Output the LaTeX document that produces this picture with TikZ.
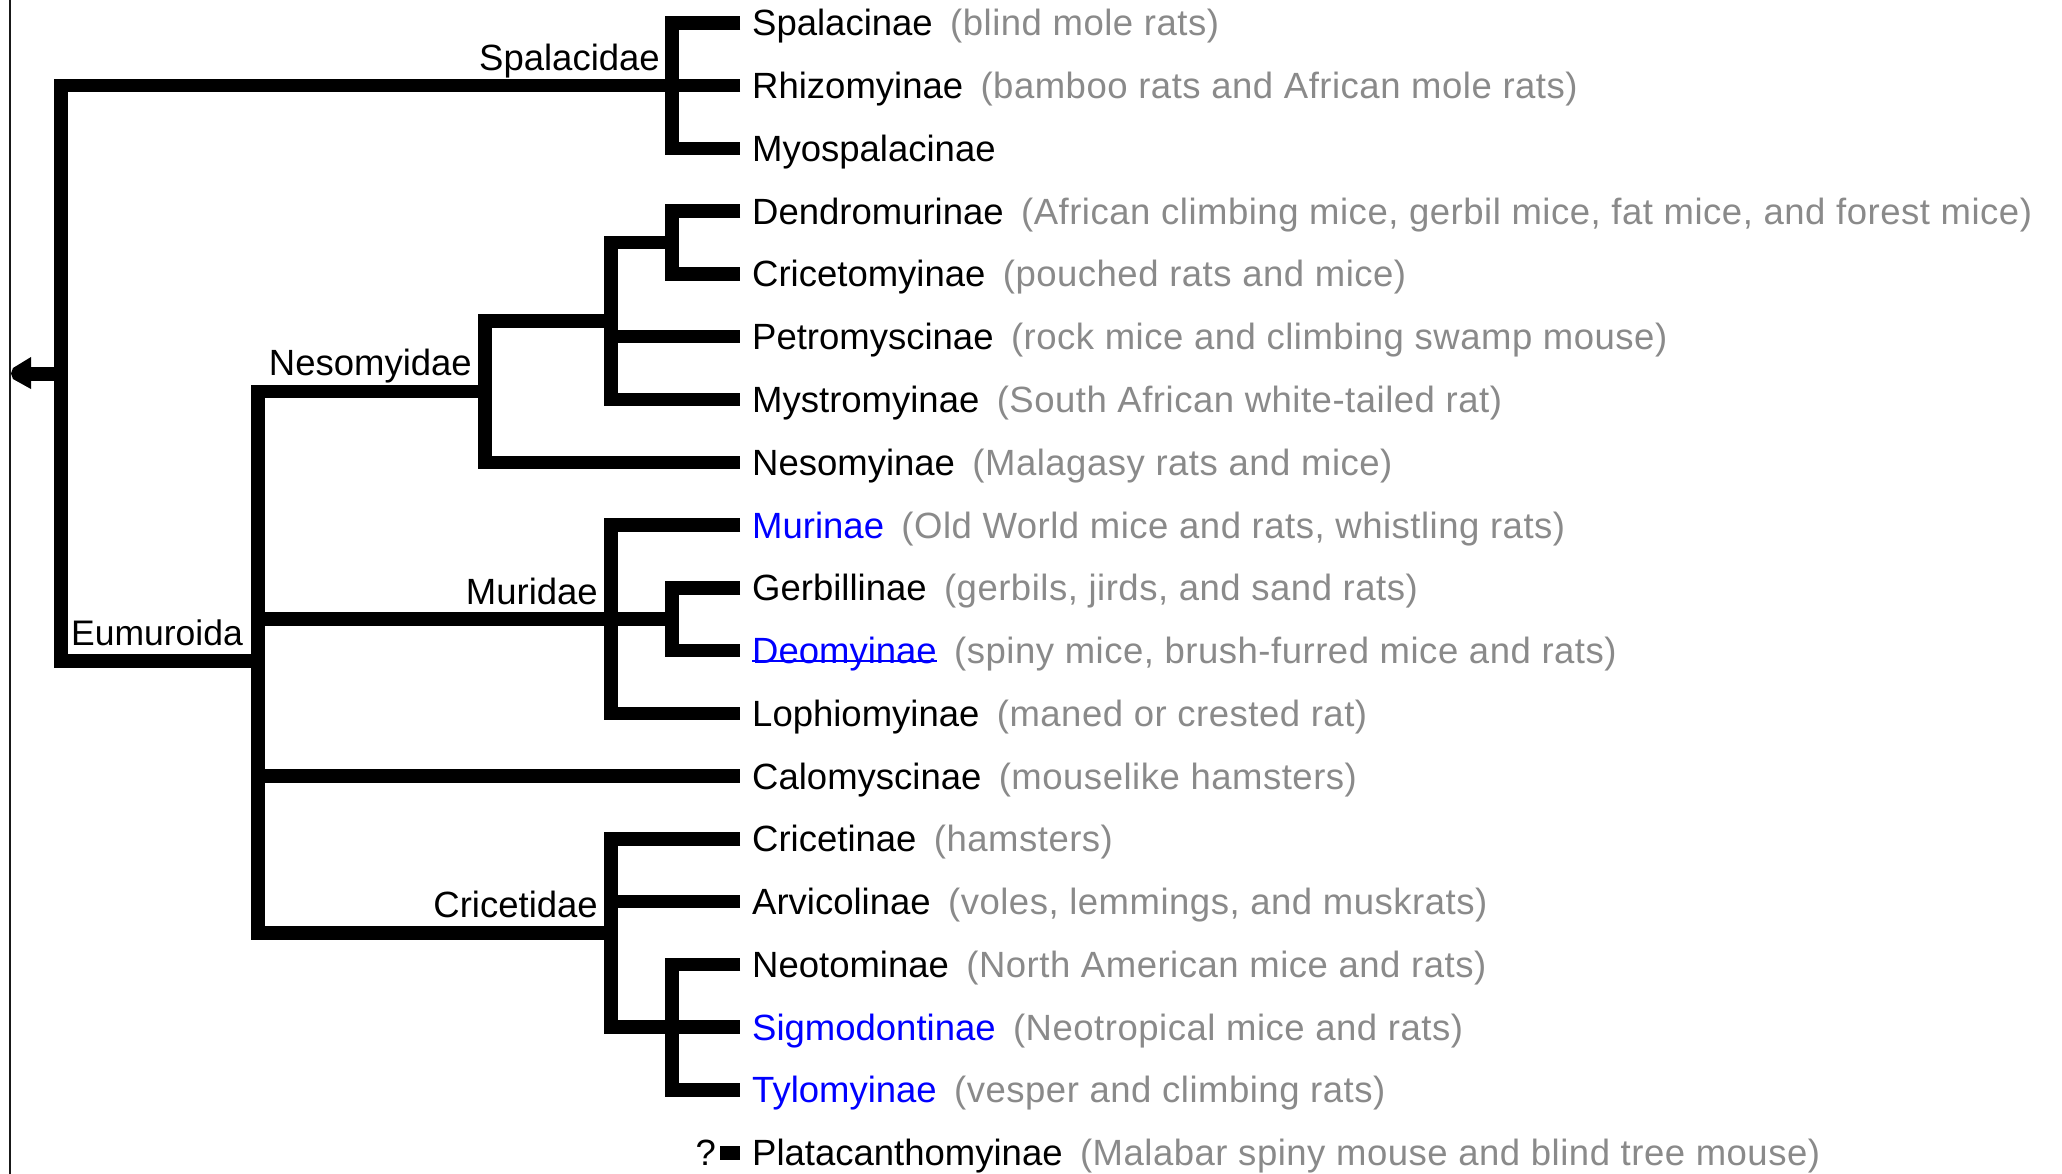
\documentclass[tikz,border=0pt]{standalone}
\usepackage{fontspec}
\setmainfont{Liberation Sans}
\definecolor{descgrey}{HTML}{8A8A8A}
\definecolor{linkblue}{HTML}{0000FF}
\tikzset{
  branch/.style={line width=13.5pt, line join=miter, line cap=butt, black},
  taxon/.style={anchor=base west, inner sep=0pt, font=\fontsize{36.5}{40}\selectfont},
  descr/.style={anchor=base west, inner sep=0pt, text=descgrey, font=\fontsize{36.5}{40}\selectfont\addfontfeature{LetterSpace=1.4}},
  cladelabel/.style={anchor=base east, inner sep=0pt, text=black, font=\fontsize{36.5}{40}\selectfont},
}
\newcommand{\leafrow}[5]{%
  \coordinate (#1) at (740,#2);
  \node[taxon, text=#3] (#1-n) at (752,{#2+13}) {#4};
  \node[descr] (#1-d) at ([xshift=17pt]#1-n.base east) {#5};
}
\begin{document}
\begin{tikzpicture}[x=1pt,y=-1pt]
\useasboundingbox (0,0) rectangle (2062,1174);
\fill[white] (0,0) rectangle (2062,1174);
% left frame line
\coordinate (frameTop) at (10,0);
\coordinate (frameBot) at (10,1174);
\draw[line width=2.5pt, black!90] (frameTop) -- (frameBot);

% leaves
\leafrow{spalacinae}{23}{black}{Spalacinae}{(blind mole rats)}
\leafrow{rhizomyinae}{85.75}{black}{Rhizomyinae}{(bamboo rats and African mole rats)}
\leafrow{myospalacinae}{148.5}{black}{Myospalacinae}{}
\leafrow{dendromurinae}{211.25}{black}{Dendromurinae}{(African climbing mice, gerbil mice, fat mice, and forest mice)}
\leafrow{cricetomyinae}{274}{black}{Cricetomyinae}{(pouched rats and mice)}
\leafrow{petromyscinae}{336.75}{black}{Petromyscinae}{(rock mice and climbing swamp mouse)}
\leafrow{mystromyinae}{399.5}{black}{Mystromyinae}{(South African white-tailed rat)}
\leafrow{nesomyinae}{462.25}{black}{Nesomyinae}{(Malagasy rats and mice)}
\leafrow{murinae}{525}{linkblue}{Murinae}{(Old World mice and rats, whistling rats)}
\leafrow{gerbillinae}{587.75}{black}{Gerbillinae}{(gerbils, jirds, and sand rats)}
\leafrow{deomyinae}{650.5}{linkblue}{Deomyinae}{(spiny mice, brush-furred mice and rats)}
\leafrow{lophiomyinae}{713.25}{black}{Lophiomyinae}{(maned or crested rat)}
\leafrow{calomyscinae}{776}{black}{Calomyscinae}{(mouselike hamsters)}
\leafrow{cricetinae}{838.75}{black}{Cricetinae}{(hamsters)}
\leafrow{arvicolinae}{901.5}{black}{Arvicolinae}{(voles, lemmings, and muskrats)}
\leafrow{neotominae}{964.25}{black}{Neotominae}{(North American mice and rats)}
\leafrow{sigmodontinae}{1027}{linkblue}{Sigmodontinae}{(Neotropical mice and rats)}
\leafrow{tylomyinae}{1089.75}{linkblue}{Tylomyinae}{(vesper and climbing rats)}
\leafrow{platacanthomyinae}{1152.5}{black}{Platacanthomyinae}{(Malabar spiny mouse and blind tree mouse)}
% underline of the hovered link
\draw[linkblue, line width=2.5pt] ([yshift=2.5pt]deomyinae-n.base west) -- ([yshift=2.5pt]deomyinae-n.base east);

% internal nodes
\coordinate (root) at (61,373.5);
\coordinate (rootTip) at (11,373.5);
\coordinate (spalTop) at (672,23);
\coordinate (spalBot) at (672,148.5);
\coordinate (spalStem) at (61,85.75);
\coordinate (eumStem) at (61,661);
\coordinate (eumJoin) at (258,661);
\coordinate (dcTop) at (672,211.25);
\coordinate (dcBot) at (672,274);
\coordinate (dcMid) at (672,242.6);
\coordinate (inTop) at (611,242.6);
\coordinate (inBot) at (611,399.5);
\coordinate (inPetro) at (611,336.75);
\coordinate (inMid) at (611,321);
\coordinate (nesTop) at (485,321);
\coordinate (nesBot) at (485,462.25);
\coordinate (nesMid) at (485,391.6);
\coordinate (eumTop) at (258,391.6);
\coordinate (eumBot) at (258,932.9);
\coordinate (eumMur) at (258,619.1);
\coordinate (eumCalo) at (258,776);
\coordinate (murTop) at (611,525);
\coordinate (murBot) at (611,713.25);
\coordinate (gdTop) at (672,587.75);
\coordinate (gdBot) at (672,650.5);
\coordinate (gdMid) at (672,619.1);
\coordinate (criTop) at (611,838.75);
\coordinate (criBot) at (611,1027);
\coordinate (criMid) at (611,932.9);
\coordinate (criArv) at (611,901.5);
\coordinate (ntTop) at (672,964.25);
\coordinate (ntBot) at (672,1089.75);

% branches
\draw[branch] (spalacinae) -- (spalTop) -- (spalBot) -- (myospalacinae);
\draw[branch] (rhizomyinae) -- (spalStem) -- (eumStem) -- (eumJoin);
\draw[branch] (dendromurinae) -- (dcTop) -- (dcBot) -- (cricetomyinae);
\draw[branch] (dcMid) -- (inTop) -- (inBot) -- (mystromyinae);
\draw[branch] (inPetro) -- (petromyscinae);
\draw[branch] (inMid) -- (nesTop) -- (nesBot) -- (nesomyinae);
\draw[branch] (nesMid) -- (eumTop) -- (eumBot) -- (criMid);
\draw[branch] (murinae) -- (murTop) -- (murBot) -- (lophiomyinae);
\draw[branch] (gerbillinae) -- (gdTop) -- (gdBot) -- (deomyinae);
\draw[branch] (eumMur) -- (gdMid);
\draw[branch] (eumCalo) -- (calomyscinae);
\draw[branch] (cricetinae) -- (criTop) -- (criBot) -- (sigmodontinae);
\draw[branch] (criArv) -- (arvicolinae);
\draw[branch] (neotominae) -- (ntTop) -- (ntBot) -- (tylomyinae);

% root stub and arrowhead
\coordinate (stubEnd) at (31,373.5);
\draw[line width=14pt, line cap=butt] (root) -- (stubEnd);
\fill (31,357) -- (31,389) -- (13,379) -- (rootTip) -- (13,368) -- cycle;

% uncertain placement marker
\coordinate (platMark) at (720,1146);
\fill (platMark) rectangle (740,1160);
\node[cladelabel] (qmark) at (716,1165.5) {?};

% clade labels
\node[cladelabel] (lSpalacidae) at (660,71) {Spalacidae};
\node[cladelabel] (lNesomyidae) at (472,375) {Nesomyidae};
\node[cladelabel] (lMuridae) at (598,604) {Muridae};
\node[cladelabel] (lCricetidae) at (598,917) {Cricetidae};
\node[anchor=base west, inner sep=0pt, font=\fontsize{35.5}{40}\selectfont] (lEumuroida) at (71,645) {Eumuroida};
\end{tikzpicture}
\end{document}
